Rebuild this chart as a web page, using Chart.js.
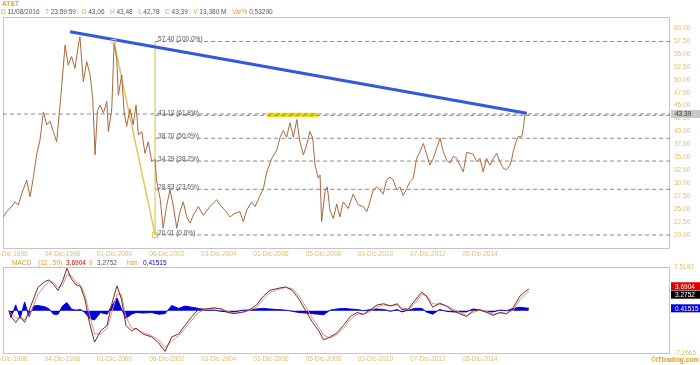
<!DOCTYPE html>
<html>
<head>
<meta charset="utf-8">
<script src="https://cdn.jsdelivr.net/npm/chart.js@4.4.0/dist/chart.umd.min.js"></script>
<style>
  body { margin: 0; background: #fff; }
  #wrap { position: relative; width: 700px; height: 365px; overflow: hidden; font-family: Arial, "Liberation Sans", sans-serif; }
  canvas { position: absolute; left: 0; }
  .t { position: absolute; font-size: 6.5px; white-space: nowrap; line-height: 7px; }
  .k { color: #e0a030; }
  .v { color: #555; }
</style>
</head>
<body>
<div id="wrap">
  <canvas id="priceChart" width="700" height="258" style="top:0"></canvas>
  <canvas id="macdChart" width="700" height="107" style="top:258px"></canvas>
  <div class="t k" style="left:2px;top:0px;font-weight:bold">AT&amp;T</div>
  <div class="t" style="left:1px;top:8px"><span class="k">D</span><span class="v"> 11/08/2016</span>&nbsp;&nbsp;&nbsp;<span class="k">T</span><span class="v"> 23:59:59</span>&nbsp;&nbsp;&nbsp;<span class="k">O</span><span class="v"> 43,06</span>&nbsp;&nbsp;&nbsp;<span class="k">H</span><span class="v"> 43,48</span>&nbsp;&nbsp;&nbsp;<span class="k">L</span><span class="v"> 42,78</span>&nbsp;&nbsp;&nbsp;<span class="k">C</span><span class="v"> 43,39</span>&nbsp;&nbsp;&nbsp;<span class="k">V</span><span class="v"> 13,380 M</span>&nbsp;&nbsp;&nbsp;<span class="k">Var%</span><span class="v"> 0,53290</span></div>

  <span class="t k" style="left:12px;top:259px">MACD</span>
  <span class="t k" style="left:38px;top:259px">(12 , 50)</span>
  <span class="t" style="left:66px;top:259px;color:#d00000">3,6904</span>
  <span class="t k" style="left:89px;top:259px">9</span>
  <span class="t v" style="left:97px;top:259px">3,2752</span>
  <span class="t k" style="left:127px;top:259px">hist</span>
  <span class="t" style="left:143px;top:259px;color:#0000cc">0,41515</span>
  <div class="t" style="right:1px;top:356px;color:#d89a20;font-weight:bold">&copy;ITtrading.com</div>
</div>
<script>
// ---- price (weekly close) ----
const priceYears = [
  1996.66, 1996.79, 1996.99, 1997.11, 1997.24, 1997.37, 1997.56, 1997.69, 1997.81, 1997.94,
  1998.07, 1998.20, 1998.33, 1998.45, 1998.58, 1998.71, 1998.81, 1998.90, 1999.03, 1999.15,
  1999.28, 1999.41, 1999.54, 1999.60, 1999.73, 1999.86, 1999.99, 2000.09, 2000.18, 2000.27,
  2000.37, 2000.50, 2000.63, 2000.69, 2000.82, 2000.91, 2001.01, 2001.07, 2001.20, 2001.29,
  2001.39, 2001.52, 2001.64, 2001.75, 2001.84, 2001.97, 2002.09, 2002.22, 2002.35, 2002.48,
  2002.54, 2002.67, 2002.79, 2002.92, 2003.05, 2003.18, 2003.31, 2003.43, 2003.56, 2003.69,
  2003.82, 2003.94, 2004.14, 2004.33, 2004.58, 2004.84, 2004.97, 2005.16, 2005.35, 2005.54,
  2005.73, 2005.86, 2005.99, 2006.18, 2006.31, 2006.50, 2006.63, 2006.76, 2006.95, 2007.14,
  2007.27, 2007.39, 2007.52, 2007.65, 2007.78, 2007.91, 2008.03, 2008.16, 2008.29, 2008.41,
  2008.52, 2008.61, 2008.73, 2008.80, 2008.86, 2008.99, 2009.08, 2009.18, 2009.31, 2009.44,
  2009.56, 2009.69, 2009.88, 2010.07, 2010.27, 2010.46, 2010.59, 2010.71, 2010.84, 2010.97,
  2011.10, 2011.22, 2011.35, 2011.48, 2011.61, 2011.74, 2011.86, 2011.99, 2012.12, 2012.25,
  2012.37, 2012.50, 2012.63, 2012.76, 2012.89, 2013.01, 2013.14, 2013.27, 2013.40, 2013.52,
  2013.65, 2013.78, 2013.90, 2014.04, 2014.16, 2014.29, 2014.42, 2014.55, 2014.67, 2014.80,
  2014.93, 2015.05, 2015.18, 2015.31, 2015.44, 2015.57, 2015.69, 2015.82, 2015.95, 2016.08,
  2016.14, 2016.20, 2016.31, 2016.39, 2016.53, 2016.59, 2016.65, 2016.72
];
const priceValues = [
  23.5, 24.5, 25.5, 26.4, 25.8, 28.0, 30.6, 27.4, 31.0, 35.5,
  38.4, 43.8, 41.3, 42.0, 40.0, 38.0, 43.6, 48.7, 56.7, 52.8,
  54.5, 52.2, 56.7, 58.3, 49.6, 53.5, 50.9, 46.4, 35.5, 44.0,
  45.1, 43.6, 45.8, 40.0, 44.4, 57.0, 54.1, 47.0, 50.9, 43.8,
  41.0, 44.4, 41.3, 45.1, 39.3, 40.0, 35.8, 38.0, 34.2, 34.6,
  30.3, 27.1, 21.3, 25.6, 28.7, 25.6, 21.3, 24.5, 26.4, 23.5,
  22.3, 23.8, 25.5, 23.8, 25.5, 26.8, 25.8, 24.8, 23.5, 24.2,
  24.5, 22.6, 24.8, 26.4, 25.5, 27.6, 29.0, 32.2, 34.8, 36.4,
  38.9, 40.2, 38.9, 41.7, 38.9, 42.3, 38.0, 35.5, 37.4, 40.0,
  38.7, 33.5, 31.0, 31.6, 22.6, 28.4, 29.3, 24.8, 23.2, 26.0,
  23.5, 26.4, 25.1, 27.9, 25.8, 25.5, 24.5, 26.4, 28.7, 29.3,
  28.7, 27.9, 30.6, 31.2, 30.6, 28.7, 29.3, 27.6, 29.0, 30.3,
  30.9, 34.8, 36.1, 37.7, 35.5, 33.5, 34.8, 36.8, 38.7, 36.1,
  34.5, 33.9, 35.2, 34.8, 33.5, 32.2, 36.0, 35.8, 35.6, 34.2,
  34.8, 32.2, 34.8, 33.5, 34.8, 35.8, 34.2, 32.9, 32.6, 33.5,
  34.5, 36.1, 38.0, 39.0, 39.0, 40.6, 43.2, 43.39
];
const lastPrice = 43.39;

// ---- trend line and fibonacci retracement ----
const trendYears = [1999.22, 2016.72];
const trendValues = [59.29, 43.52];
const fibHighYear = 2000.90;
const fibLowYear = 2002.48;
const fibLevels = [57.40, 43.12, 38.70, 34.29, 28.83, 20.01];
const fibLabels = ["57.40 (100.0%)", "43.12 (61.8%)", "38.70 (50.0%)", "34.29 (38.2%)", "28.83 (23.6%)", "20.01 (0.0%)"];
const zoneYears = [2006.76, 2008.73];
const zoneValues = [42.80, 43.63];

// ---- axes ----
const dateTicks = [1996.92, 1998.93, 2000.92, 2002.93, 2004.92, 2006.92, 2008.93, 2010.92, 2012.93, 2014.93];
const dateLabels = ["01-Dic-1996", "04-Dic-1998", "01-Dic-2000", "06-Dic-2002", "03-Dic-2004",
                    "01-Dic-2006", "05-Dic-2008", "03-Dic-2010", "07-Dic-2012", "05-Dic-2014"];
const priceTicks = [20, 22.5, 25, 27.5, 30, 32.5, 35, 37.5, 40, 42.5, 45, 47.5, 50, 52.5, 55, 57.5, 60];
const xMin = 1996.652, xMax = 2022.21;
const priceMin = 17.49, priceMax = 62.13;
const macdMin = -7.2665, macdMax = 7.5193;

// ---- MACD (12, 50, 9) ----
const macdYears = [
  1996.88, 1996.96, 1997.14, 1997.31, 1997.48, 1997.65, 1997.82, 1997.99, 1998.25, 1998.42,
  1998.59, 1998.76, 1998.93, 1999.10, 1999.27, 1999.44, 1999.62, 1999.79, 1999.96, 2000.16,
  2000.39, 2000.64, 2000.81, 2001.02, 2001.19, 2001.36, 2001.58, 2001.75, 2002.01, 2002.35,
  2002.61, 2002.86, 2003.12, 2003.38, 2003.63, 2003.89, 2004.15, 2004.40, 2004.75, 2005.00,
  2005.26, 2005.51, 2005.86, 2006.11, 2006.37, 2006.63, 2006.88, 2007.14, 2007.48, 2007.74,
  2007.99, 2008.25, 2008.51, 2008.76, 2008.93, 2009.19, 2009.45, 2009.70, 2009.96, 2010.22,
  2010.47, 2010.73, 2010.99, 2011.24, 2011.50, 2011.76, 2011.93, 2012.18, 2012.44, 2012.70,
  2012.87, 2013.12, 2013.38, 2013.64, 2013.89, 2014.15, 2014.41, 2014.66, 2014.92, 2015.18,
  2015.43, 2015.69, 2015.95, 2016.20, 2016.46, 2016.63, 2016.80
];
const macdValues = [
  0, -1.0, -2.0, -1.0, -2.0, 0, 2.0, 4.0, 5.0, 5.3,
  4.5, 3.5, 5.0, 7.3, 5.5, 4.5, 4.2, 2.0, -2.0, -5.4,
  -3.5, -2.5, 1.0, 4.3, 2.0, -2.5, -3.5, -3.0, -4.0, -4.5,
  -5.5, -7.0, -4.5, -4.0, -2.5, -1.0, 0.3, 0.3, 0.5, 0.3,
  -0.3, -0.5, -0.2, 0.2, 1.0, 2.5, 3.5, 3.8, 4.1, 3.5,
  2.0, 0, -2.0, -3.5, -5.0, -4.5, -3.8, -2.5, -1.0, -0.3,
  -0.6, 0.2, 1.0, 1.2, 0.8, 1.2, 0.2, 0.3, 1.8, 3.2,
  2.5, 0.6, 1.3, 0.8, 0, -0.5, -1.0, 0, 0.2, -0.3,
  -0.8, -0.3, -0.5, 0.5, 2.5, 3.2, 3.69
];
const signalValues = [
  0, -0.5, -1.2, -1.3, -1.5, -0.8, 0.8, 2.8, 4.3, 5.0,
  4.9, 4.0, 4.3, 6.2, 6.0, 5.0, 4.4, 2.8, -0.5, -4.0,
  -4.0, -3.0, -0.5, 2.8, 2.8, -1.0, -3.0, -3.2, -3.7, -4.3,
  -5.0, -6.3, -5.2, -4.3, -3.0, -1.6, -0.3, 0.2, 0.4, 0.4,
  -0.1, -0.4, -0.3, 0.1, 0.6, 2.0, 3.1, 3.6, 4.0, 3.8,
  2.6, 0.7, -1.3, -2.9, -4.2, -4.7, -4.1, -3.0, -1.5, -0.6,
  -0.6, -0.1, 0.7, 1.0, 0.9, 1.0, 0.5, 0.2, 1.3, 2.8,
  2.7, 1.2, 1.1, 0.9, 0.3, -0.3, -0.8, -0.3, 0.1, -0.1,
  -0.6, -0.4, -0.5, 0.1, 1.9, 2.7, 3.28
];
const histValues = [
  0, -1.2, 1.0, -1.3, 1.5, -1.0, 0.8, 0.9, 0.7, 0.3,
  -0.6, -0.6, 0.8, 1.4, 0.3, 0.1, 0.2, -0.3, -1.3, -1.6,
  -0.3, -0.6, 0.8, 2.2, 0.3, -1.3, -0.6, -0.3, -0.4, -0.3,
  -0.6, -0.5, 0.9, 0.4, 0.8, 0.6, 0.4, 0.1, 0.1, -0.1,
  -0.2, -0.2, 0.1, 0.1, 0.3, 0.4, 0.3, 0.2, 0.1, -0.1,
  -0.3, -0.4, -0.5, -0.6, -0.7, 0.1, 0.3, 0.4, 0.3, 0.2,
  0.0, 0.2, 0.3, 0.2, -0.1, 0.2, -0.2, 0.1, 0.4, 0.4,
  -0.2, -0.6, 0.2, -0.1, -0.2, -0.2, -0.2, 0.3, 0.1, -0.2,
  -0.2, 0.1, 0.0, 0.4, 0.6, 0.5, 0.42
];
const macdLast = 3.6904, signalLast = 3.2752, histLast = 0.41515;

const tickFont = { family: "Arial", size: 6.5 };
const tickColor = "#dcc070";

function pts(xs, ys) {
  return xs.map((x, i) => ({ x: x, y: ys[i] }));
}

function xAxis(h) {
  return {
    type: "linear", min: xMin, max: xMax,
    grid: { display: false, drawTicks: false }, border: { display: false },
    afterBuildTicks: (s) => { s.ticks = dateTicks.map((v) => ({ value: v })); },
    afterFit: (s) => {
      // keep the plot flush with the left edge, labels may be cut like the original
      s.height = h;
      s.paddingLeft = 0;
      s.paddingRight = 0;
    },
    ticks: {
      font: tickFont, color: tickColor, padding: 2, maxRotation: 0, autoSkip: false,
      callback: (v) => dateLabels[dateTicks.indexOf(v)]
    }
  };
}

function valueBox(ctx, y, text, bg, fg) {
  ctx.fillStyle = bg;
  ctx.fillRect(671, y - 4, 29, 8);
  ctx.fillStyle = fg;
  ctx.font = "6.5px Arial";
  ctx.textBaseline = "middle";
  ctx.textAlign = "left";
  ctx.fillText(text, 675, y + 0.5);
}

const framePlugin = {
  id: "frame",
  beforeDatasetsDraw(chart) {
    const a = chart.chartArea, ctx = chart.ctx;
    ctx.save();
    ctx.strokeStyle = "#c4c4c4";
    ctx.lineWidth = 1;
    ctx.strokeRect(a.left + 0.5, a.top + 0.5, a.right - a.left - 1, a.bottom - a.top);
    ctx.restore();
  }
};

const pricePlugin = {
  id: "priceExtras",
  beforeDatasetsDraw(chart) {
    const x = chart.scales.x, y = chart.scales.y, ctx = chart.ctx;
    ctx.save();
    // highlighted resistance zone
    ctx.fillStyle = "#f4e400";
    const x0 = x.getPixelForValue(zoneYears[0]), x1 = x.getPixelForValue(zoneYears[1]);
    const y0 = y.getPixelForValue(zoneValues[1]), y1 = y.getPixelForValue(zoneValues[0]);
    ctx.fillRect(x0, y0, x1 - x0, y1 - y0);
    ctx.restore();
  },
  afterDatasetsDraw(chart) {
    const x = chart.scales.x, y = chart.scales.y, ctx = chart.ctx;
    ctx.save();
    ctx.font = "6.5px Arial";
    ctx.fillStyle = "#555";
    ctx.textAlign = "left";
    ctx.textBaseline = "bottom";
    const lx = x.getPixelForValue(fibLowYear) + 3;
    fibLevels.forEach((v, i) => {
      ctx.fillText(fibLabels[i], lx, y.getPixelForValue(v) + 1);
    });
    // small anchor squares of the retracement tool
    ctx.strokeStyle = "#e6c35a";
    ctx.lineWidth = 1;
    const bx = x.getPixelForValue(fibLowYear), by = y.getPixelForValue(fibLevels[5]);
    ctx.strokeRect(bx - 2.5, by - 2.5, 5, 5);
    const hx = x.getPixelForValue(fibHighYear), hy = y.getPixelForValue(fibLevels[0]);
    ctx.strokeRect(hx - 2, hy - 2, 4, 4);
    valueBox(ctx, y.getPixelForValue(lastPrice), lastPrice.toFixed(2), "#c8c8c8", "#333");
    ctx.restore();
  }
};

function dashed(v, fromYear) {
  return {
    data: [{ x: fromYear, y: v }, { x: xMax, y: v }],
    borderColor: "#8a8a8a", borderWidth: 1, borderDash: [4, 3],
    pointRadius: 0, order: 5
  };
}

const priceDatasets = [
  { data: pts(priceYears, priceValues), borderColor: "#a8683c", borderWidth: 1, pointRadius: 0, order: 2 },
  { data: pts(trendYears, trendValues), borderColor: "#3358dc", borderWidth: 3, pointRadius: 0, order: 1 },
  { data: [{ x: fibLowYear, y: fibLevels[0] }, { x: fibLowYear, y: fibLevels[5] }],
    borderColor: "#e6c35a", borderWidth: 1.2, pointRadius: 0, order: 3 },
  { data: [{ x: fibHighYear, y: fibLevels[0] }, { x: fibLowYear, y: fibLevels[5] }],
    borderColor: "#e6c35a", borderWidth: 1.5, pointRadius: 0, order: 3 },
  dashed(lastPrice, xMin)
].concat(fibLevels.map((v) => dashed(v, fibLowYear)));

new Chart(document.getElementById("priceChart"), {
  type: "line",
  data: { datasets: priceDatasets },
  options: {
    responsive: false, animation: false,
    layout: { padding: { left: 3, top: 17, right: 0, bottom: 0 } },
    plugins: { legend: { display: false }, tooltip: { enabled: false } },
    scales: {
      x: xAxis(10),
      y: {
        position: "right", min: priceMin, max: priceMax,
        grid: { display: false, drawTicks: false }, border: { display: false },
        afterBuildTicks: (s) => { s.ticks = priceTicks.map((v) => ({ value: v })); },
        afterFit: (s) => { s.width = 30; s.paddingTop = 0; s.paddingBottom = 0; },
        ticks: { font: tickFont, color: tickColor, padding: 4, callback: (v) => v.toFixed(2) }
      }
    }
  },
  plugins: [framePlugin, pricePlugin]
});

const macdPlugin = {
  id: "macdExtras",
  afterDatasetsDraw(chart) {
    const y = chart.scales.y, ctx = chart.ctx;
    ctx.save();
    valueBox(ctx, y.getPixelForValue(macdLast) - 3, macdLast.toFixed(4), "#e00000", "#fff");
    valueBox(ctx, y.getPixelForValue(signalLast) + 3, signalLast.toFixed(4), "#000", "#fff");
    valueBox(ctx, y.getPixelForValue(histLast), histLast.toFixed(5), "#0000dd", "#fff");
    ctx.restore();
  }
};

new Chart(document.getElementById("macdChart"), {
  type: "line",
  data: {
    datasets: [
      { data: pts(macdYears, histValues), borderColor: "#0000d8", backgroundColor: "#0000d8",
        fill: "origin", borderWidth: 1, pointRadius: 0, order: 3 },
      { data: pts(macdYears, signalValues), borderColor: "#d89090", borderWidth: 1, pointRadius: 0, order: 2 },
      { data: pts(macdYears, macdValues), borderColor: "#7a2a1c", borderWidth: 1, pointRadius: 0, order: 1 }
    ]
  },
  options: {
    responsive: false, animation: false,
    layout: { padding: { left: 3, top: 9, right: 0, bottom: 0 } },
    plugins: { legend: { display: false }, tooltip: { enabled: false } },
    scales: {
      x: xAxis(12),
      y: {
        position: "right", min: macdMin, max: macdMax,
        grid: { display: false, drawTicks: false }, border: { display: false },
        afterBuildTicks: (s) => { s.ticks = [{ value: macdMin }, { value: macdMax }]; },
        afterFit: (s) => { s.width = 30; s.paddingTop = 0; s.paddingBottom = 0; },
        ticks: { font: tickFont, color: tickColor, padding: 4, callback: (v) => v.toFixed(4) }
      }
    }
  },
  plugins: [framePlugin, macdPlugin]
});
</script>
</body>
</html>
